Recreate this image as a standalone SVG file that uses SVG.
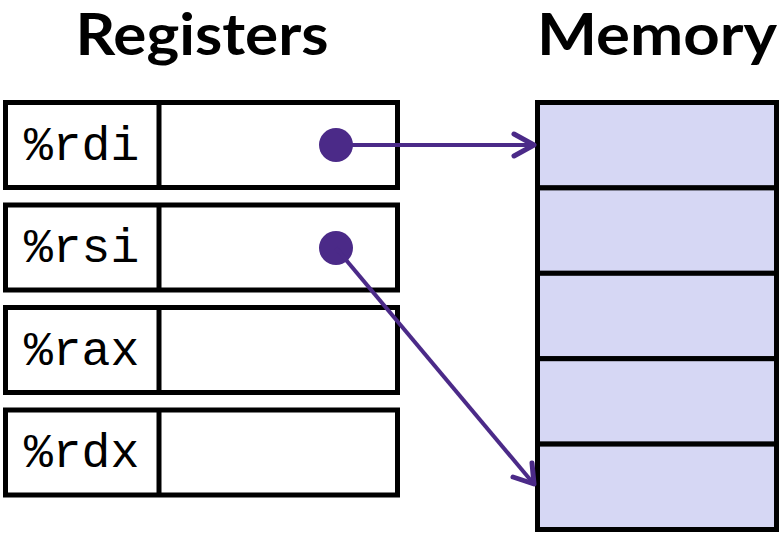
<svg xmlns="http://www.w3.org/2000/svg" width="782" height="535" viewBox="0 0 782 535">
<style>
.title{font-family:Lato,"Open Sans","Liberation Sans",sans-serif;font-weight:bold;font-size:57px;fill:#000}
.reg{fill:#fff;stroke:#000;stroke-width:5}
.lbl{font-family:"Liberation Mono","Courier New",monospace;font-size:48px;fill:#000}
.mem{fill:#D6D7F4;stroke:#000;stroke-width:5}
.conn{stroke:#4B2A88;stroke-width:4;fill:none}
.head{stroke:#4B2A88;stroke-width:5;fill:none;stroke-linecap:round;stroke-linejoin:round}
.dot{fill:#4B2A88}
</style>
<text class="title" x="202" y="55" text-anchor="middle" textLength="253" lengthAdjust="spacingAndGlyphs">Registers</text>
<text class="title" x="657" y="55" text-anchor="middle" textLength="240" lengthAdjust="spacingAndGlyphs">Memory</text>
<g id="reg-rdi">
<rect class="reg" x="5.5" y="102.5" width="392" height="85"/>
<line x1="159" y1="102.5" x2="159" y2="187.5" stroke="#000" stroke-width="5"/>
<text class="lbl" x="24" y="160">%rdi</text>
</g>
<g id="reg-rsi">
<rect class="reg" x="5.5" y="205" width="392" height="85"/>
<line x1="159" y1="205" x2="159" y2="290" stroke="#000" stroke-width="5"/>
<text class="lbl" x="24" y="262">%rsi</text>
</g>
<g id="reg-rax">
<rect class="reg" x="5.5" y="307.5" width="392" height="85"/>
<line x1="159" y1="307.5" x2="159" y2="392.5" stroke="#000" stroke-width="5"/>
<text class="lbl" x="24" y="365">%rax</text>
</g>
<g id="reg-rdx">
<rect class="reg" x="5.5" y="410" width="392" height="85"/>
<line x1="159" y1="410" x2="159" y2="495" stroke="#000" stroke-width="5"/>
<text class="lbl" x="24" y="467">%rdx</text>
</g>
<g id="memory">
<rect class="mem" x="537.5" y="102.5" width="239" height="85.4"/>
<rect class="mem" x="537.5" y="187.9" width="239" height="85.4"/>
<rect class="mem" x="537.5" y="273.3" width="239" height="85.4"/>
<rect class="mem" x="537.5" y="358.7" width="239" height="85.4"/>
<rect class="mem" x="537.5" y="444.1" width="239" height="85.4"/>
</g>
<g id="connectors">
<circle class="dot" cx="336" cy="145" r="17"/>
<line class="conn" x1="336" y1="145" x2="533" y2="145"/>
<polyline class="head" points="514,134 534,145 514,156"/>
<circle class="dot" cx="336" cy="248" r="17"/>
<line class="conn" x1="336" y1="248" x2="533" y2="483"/>
<polyline class="head" points="532,463 534,484 513,477"/>
</g>
</svg>
